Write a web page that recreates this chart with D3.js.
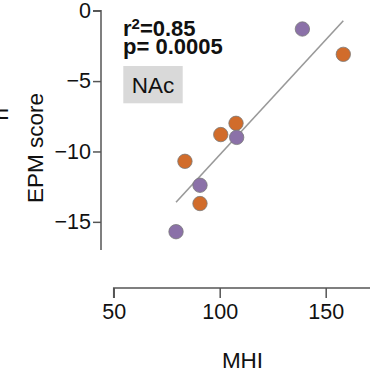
<!DOCTYPE html>
<html>
<head>
<meta charset="utf-8">
<script src="https://cdn.jsdelivr.net/npm/d3@7"></script>
<style>
  body { margin: 0; background: #fff; }
  svg { display: block; font-family: "Liberation Sans", Arial, sans-serif; }
</style>
</head>
<body>
<div id="chart"></div>
<script>
// two groups of animals, MHI vs EPM score
const orangeMHI = [158.3, 107.7, 100.5, 83.6, 90.7];
const orangeEPM = [-3.1, -8.0, -8.8, -10.7, -13.7];
const purpleMHI = [139, 108, 90.7, 79.4];
const purpleEPM = [-1.3, -9.0, -12.4, -15.7];

const xTicks = [50, 100, 150];
const yTicks = [0, -5, -10, -15];
const rSquared = "0.85";
const pValue = "0.0005";
const regionLabel = "NAc";

const width = 370, height = 380;

const x = d3.scaleLinear().domain([50, 175]).range([113.7, 378.7]);
const y = d3.scaleLinear().domain([0, -17]).range([10.7, 250]);

const svg = d3.select("#chart").append("svg")
  .attr("width", width)
  .attr("height", height);

// axes
const axisColor = "#555";
const yAxis = svg.append("g")
  .attr("transform", "translate(101,0)")
  .call(d3.axisLeft(y).tickValues(yTicks).tickSize(8).tickPadding(2).tickFormat(d3.format("d")));
const xAxis = svg.append("g")
  .attr("transform", "translate(0,288)")
  .call(d3.axisBottom(x).tickValues(xTicks).tickSize(10).tickPadding(6));

[xAxis, yAxis].forEach(g => {
  g.select(".domain").attr("stroke", axisColor).attr("stroke-width", 1.5);
  g.selectAll(".tick line").attr("stroke", axisColor).attr("stroke-width", 1.5);
  g.selectAll(".tick text")
    .attr("fill", "#111")
    .attr("font-size", 21.5)
    .attr("font-family", "Liberation Sans, Arial, sans-serif");
});
// no outer tick at the open ends
xAxis.select(".domain").attr("d", `M${x(50)},10V0H${x(175)}`);
yAxis.select(".domain").attr("d", `M-8,${y(0)}H0V${y(-17)}`);

// axis titles
svg.append("text")
  .attr("transform", "translate(43,148) rotate(-90)")
  .attr("text-anchor", "middle")
  .attr("font-size", 22.5)
  .attr("fill", "#111")
  .text("EPM score");

svg.append("text")
  .attr("x", 242.5)
  .attr("y", 367.5)
  .attr("text-anchor", "middle")
  .attr("font-size", 22.5)
  .attr("fill", "#111")
  .text("MHI");

// fragment of a neighbouring panel's label
svg.append("text")
  .attr("transform", "translate(8,108) rotate(-90)")
  .attr("text-anchor", "end")
  .attr("font-size", 22.5)
  .attr("fill", "#111")
  .text("n");

// regression line through all points
const allX = orangeMHI.concat(purpleMHI);
const allY = orangeEPM.concat(purpleEPM);
const mx = d3.mean(allX), my = d3.mean(allY);
const slope = d3.sum(allX, (v, i) => (v - mx) * (allY[i] - my)) / d3.sum(allX, v => (v - mx) ** 2);
const x0 = d3.min(allX), x1 = d3.max(allX);
svg.append("line")
  .attr("x1", x(x0)).attr("y1", y(my + slope * (x0 - mx)))
  .attr("x2", x(x1)).attr("y2", y(my + slope * (x1 - mx)))
  .attr("stroke", "#999")
  .attr("stroke-width", 1.6);

// points
const drawGroup = (xs, ys, color) => {
  svg.append("g")
    .selectAll("circle")
    .data(xs.map((v, i) => [v, ys[i]]))
    .join("circle")
    .attr("cx", d => x(d[0]))
    .attr("cy", d => y(d[1]))
    .attr("r", 7.2)
    .attr("fill", color)
    .attr("stroke", "#7a7a7a")
    .attr("stroke-width", 0.8);
};
drawGroup(orangeMHI, orangeEPM, "#d16c2b");
drawGroup(purpleMHI, purpleEPM, "#8b71a8");

// stats text
const stats = svg.append("g")
  .attr("font-size", 22)
  .attr("font-weight", "bold")
  .attr("fill", "#111");
const rLine = stats.append("text").attr("x", 123).attr("y", 35.5);
rLine.append("tspan").text("r");
rLine.append("tspan").attr("font-size", 15).attr("dy", -7).text("2");
rLine.append("tspan").attr("dy", 7).text("=" + rSquared);
stats.append("text").attr("x", 123).attr("y", 53.5).text("p= " + pValue);

// region label box
svg.append("rect")
  .attr("x", 123.3).attr("y", 66)
  .attr("width", 59.4).attr("height", 37.3)
  .attr("fill", "#d9d9d9");
svg.append("text")
  .attr("x", 153)
  .attr("y", 93.3)
  .attr("text-anchor", "middle")
  .attr("font-size", 22.5)
  .attr("fill", "#111")
  .text(regionLabel);
</script>
</body>
</html>
